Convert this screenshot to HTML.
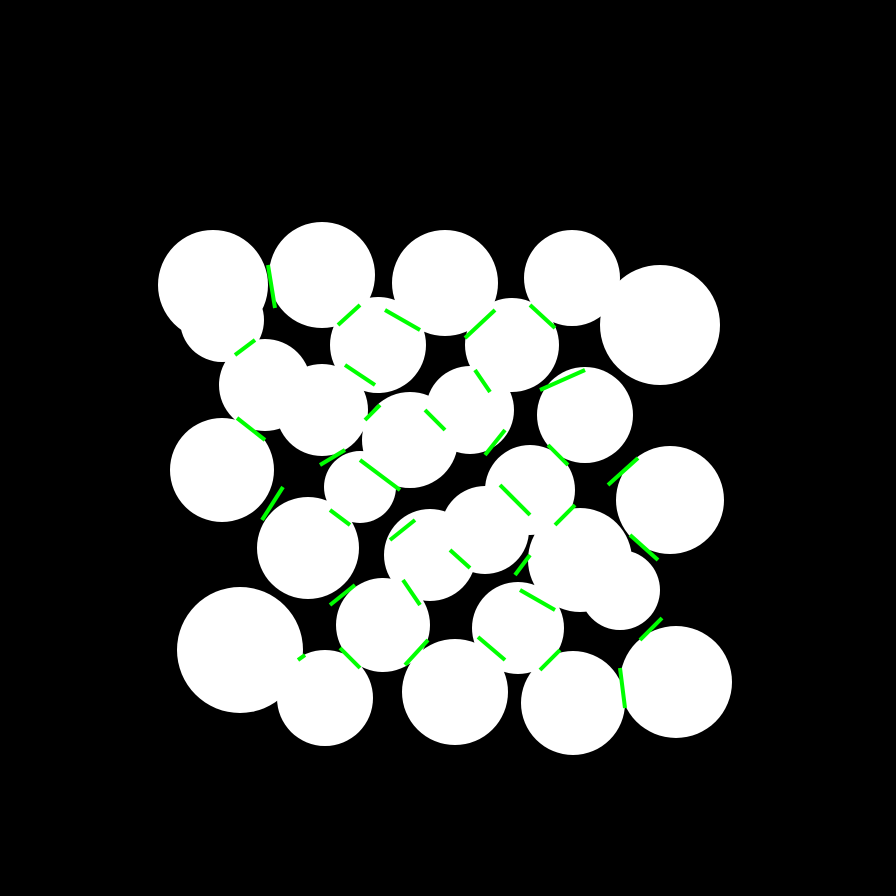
<!DOCTYPE html>
<html><head><meta charset="utf-8"><style>html,body{margin:0;padding:0;background:#000;}svg{display:block}</style></head>
<body>
<svg id="chart" width="896" height="896" viewBox="0 0 896 896" xmlns="http://www.w3.org/2000/svg">
<rect width="896" height="896" fill="#000"/>
<g id="blobs"></g><g id="edges"></g>
</svg>
<script>
const blobX=[213,222,322,445,572,660,378,512,265,322,410,470,585,222,360,308,383,240,325,430,485,530,670,580,620,518,573,676,455];
const blobY=[285,320,275,283,278,325,345,345,385,410,440,410,415,470,487,548,625,650,698,555,530,490,500,560,590,628,703,682,692];
const blobR=[55,42,53,53,48,60,48,47,46,46,48,44,48,52,36,51,47,63,48,46,44,45,54,52,40,46,52,56,53];
const edgeX1=[268,235,338,385,465,530,540,345,237,365,425,475,320,360,485,548,608,262,330,390,500,555,630,450,515,330,403,520,640,340,405,478,540,620,298];
const edgeY1=[265,355,325,310,338,305,390,365,418,420,410,370,465,460,455,445,485,520,510,540,485,525,535,550,575,605,580,590,640,648,665,637,670,668,660];
const edgeX2=[275,255,360,420,495,555,585,375,265,380,445,490,345,400,505,568,638,283,350,415,530,575,658,470,530,355,420,555,662,360,428,505,560,625,305];
const edgeY2=[308,340,305,330,310,328,370,385,440,405,430,392,450,490,430,465,458,487,525,520,515,505,560,568,555,585,605,610,618,668,640,660,650,708,655];
const ns="http://www.w3.org/2000/svg";
const gb=document.getElementById('blobs'), ge=document.getElementById('edges');
for(let i=0;i<blobX.length;i++){
  const c=document.createElementNS(ns,'circle');
  c.setAttribute('cx',blobX[i]);c.setAttribute('cy',blobY[i]);c.setAttribute('r',blobR[i]);
  c.setAttribute('fill','#fff');
  
  
  gb.appendChild(c);
}
for(let i=0;i<edgeX1.length;i++){
  const l=document.createElementNS(ns,'line');
  l.setAttribute('x1',edgeX1[i]);l.setAttribute('y1',edgeY1[i]);l.setAttribute('x2',edgeX2[i]);l.setAttribute('y2',edgeY2[i]);
  l.setAttribute('stroke','#00ff00');l.setAttribute('stroke-width','4');
  
  
  ge.appendChild(l);
}
</script>
</body></html>
